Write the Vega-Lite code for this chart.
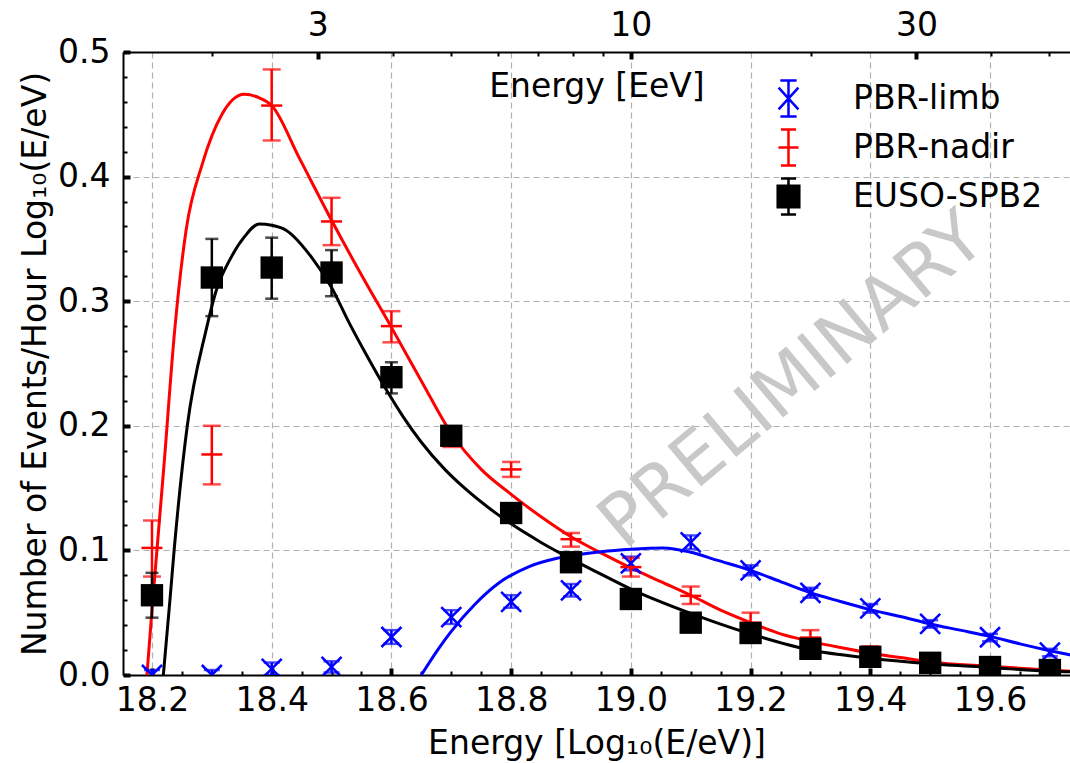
{
  "$schema": "https://vega.github.io/schema/vega-lite/v6.json",
  "width": 947,
  "height": 623,
  "autosize": {"type": "none"},
  "padding": {"left": 123, "top": 52, "right": 0, "bottom": 88},
  "background": "white",
  "config": {
    "font": "DejaVu Sans",
    "view": {"stroke": null},
    "axis": {
      "labelFont": "DejaVu Sans", "titleFont": "DejaVu Sans",
      "labelFontSize": 33, "titleFontSize": 33, "titleFontWeight": "normal",
      "labelColor": "#000000", "titleColor": "#000000",
      "tickColor": "#000000", "domainColor": "#000000", "domainWidth": 2,
      "gridColor": "#b0b0b0", "gridDash": [6, 4], "gridWidth": 1.2,
      "labelFlush": false, "labelOverlap": false
    },
    "legend": {
      "labelFont": "DejaVu Sans", "labelFontSize": 33, "labelColor": "#000000"
    }
  },
  "datasets": {
    "curve": [
      {"series": "PBR-nadir", "E": 18.1916, "y": 0.0},
      {"series": "PBR-nadir", "E": 18.2, "y": 0.052},
      {"series": "PBR-nadir", "E": 18.21, "y": 0.11},
      {"series": "PBR-nadir", "E": 18.22, "y": 0.168},
      {"series": "PBR-nadir", "E": 18.238, "y": 0.277},
      {"series": "PBR-nadir", "E": 18.257, "y": 0.357},
      {"series": "PBR-nadir", "E": 18.284, "y": 0.41},
      {"series": "PBR-nadir", "E": 18.317, "y": 0.45},
      {"series": "PBR-nadir", "E": 18.354, "y": 0.466},
      {"series": "PBR-nadir", "E": 18.378, "y": 0.4635},
      {"series": "PBR-nadir", "E": 18.4, "y": 0.457},
      {"series": "PBR-nadir", "E": 18.446, "y": 0.415},
      {"series": "PBR-nadir", "E": 18.5, "y": 0.365},
      {"series": "PBR-nadir", "E": 18.55, "y": 0.321},
      {"series": "PBR-nadir", "E": 18.6, "y": 0.279},
      {"series": "PBR-nadir", "E": 18.65, "y": 0.236},
      {"series": "PBR-nadir", "E": 18.7, "y": 0.194},
      {"series": "PBR-nadir", "E": 18.75, "y": 0.165},
      {"series": "PBR-nadir", "E": 18.8, "y": 0.145},
      {"series": "PBR-nadir", "E": 18.85, "y": 0.127},
      {"series": "PBR-nadir", "E": 18.9, "y": 0.111},
      {"series": "PBR-nadir", "E": 18.95, "y": 0.098},
      {"series": "PBR-nadir", "E": 19.0, "y": 0.086},
      {"series": "PBR-nadir", "E": 19.05, "y": 0.075},
      {"series": "PBR-nadir", "E": 19.1, "y": 0.064},
      {"series": "PBR-nadir", "E": 19.15, "y": 0.052},
      {"series": "PBR-nadir", "E": 19.2, "y": 0.042},
      {"series": "PBR-nadir", "E": 19.25, "y": 0.033},
      {"series": "PBR-nadir", "E": 19.3, "y": 0.027},
      {"series": "PBR-nadir", "E": 19.35, "y": 0.022},
      {"series": "PBR-nadir", "E": 19.4, "y": 0.0175},
      {"series": "PBR-nadir", "E": 19.45, "y": 0.014},
      {"series": "PBR-nadir", "E": 19.5, "y": 0.0105},
      {"series": "PBR-nadir", "E": 19.6, "y": 0.007},
      {"series": "PBR-nadir", "E": 19.7, "y": 0.004},
      {"series": "PBR-nadir", "E": 19.735, "y": 0.003},
      {"series": "EUSO-SPB2", "E": 18.219, "y": 0.0},
      {"series": "EUSO-SPB2", "E": 18.23, "y": 0.06},
      {"series": "EUSO-SPB2", "E": 18.237, "y": 0.1},
      {"series": "EUSO-SPB2", "E": 18.259, "y": 0.2},
      {"series": "EUSO-SPB2", "E": 18.29, "y": 0.276},
      {"series": "EUSO-SPB2", "E": 18.307, "y": 0.308},
      {"series": "EUSO-SPB2", "E": 18.332, "y": 0.335},
      {"series": "EUSO-SPB2", "E": 18.355, "y": 0.352},
      {"series": "EUSO-SPB2", "E": 18.379, "y": 0.362},
      {"series": "EUSO-SPB2", "E": 18.4, "y": 0.361},
      {"series": "EUSO-SPB2", "E": 18.424, "y": 0.357},
      {"series": "EUSO-SPB2", "E": 18.467, "y": 0.335},
      {"series": "EUSO-SPB2", "E": 18.5, "y": 0.311},
      {"series": "EUSO-SPB2", "E": 18.529, "y": 0.283},
      {"series": "EUSO-SPB2", "E": 18.56, "y": 0.2554},
      {"series": "EUSO-SPB2", "E": 18.59, "y": 0.2301},
      {"series": "EUSO-SPB2", "E": 18.62, "y": 0.207},
      {"series": "EUSO-SPB2", "E": 18.65, "y": 0.1868},
      {"series": "EUSO-SPB2", "E": 18.69, "y": 0.1646},
      {"series": "EUSO-SPB2", "E": 18.72, "y": 0.1509},
      {"series": "EUSO-SPB2", "E": 18.775, "y": 0.1297},
      {"series": "EUSO-SPB2", "E": 18.8, "y": 0.1213},
      {"series": "EUSO-SPB2", "E": 18.85, "y": 0.1064},
      {"series": "EUSO-SPB2", "E": 18.9, "y": 0.0932},
      {"series": "EUSO-SPB2", "E": 18.95, "y": 0.081},
      {"series": "EUSO-SPB2", "E": 19.0, "y": 0.069},
      {"series": "EUSO-SPB2", "E": 19.1, "y": 0.0495},
      {"series": "EUSO-SPB2", "E": 19.2, "y": 0.033},
      {"series": "EUSO-SPB2", "E": 19.3, "y": 0.02},
      {"series": "EUSO-SPB2", "E": 19.4, "y": 0.0135},
      {"series": "EUSO-SPB2", "E": 19.5, "y": 0.009},
      {"series": "EUSO-SPB2", "E": 19.6, "y": 0.006},
      {"series": "EUSO-SPB2", "E": 19.7, "y": 0.003},
      {"series": "EUSO-SPB2", "E": 19.735, "y": 0.0025},
      {"series": "PBR-limb", "E": 18.65, "y": 0.0},
      {"series": "PBR-limb", "E": 18.68, "y": 0.022},
      {"series": "PBR-limb", "E": 18.7, "y": 0.035},
      {"series": "PBR-limb", "E": 18.74, "y": 0.057},
      {"series": "PBR-limb", "E": 18.78, "y": 0.074},
      {"series": "PBR-limb", "E": 18.83, "y": 0.087},
      {"series": "PBR-limb", "E": 18.88, "y": 0.094},
      {"series": "PBR-limb", "E": 18.95, "y": 0.099},
      {"series": "PBR-limb", "E": 19.0, "y": 0.101},
      {"series": "PBR-limb", "E": 19.054, "y": 0.102},
      {"series": "PBR-limb", "E": 19.1, "y": 0.0985},
      {"series": "PBR-limb", "E": 19.145, "y": 0.092},
      {"series": "PBR-limb", "E": 19.2, "y": 0.084},
      {"series": "PBR-limb", "E": 19.25, "y": 0.075},
      {"series": "PBR-limb", "E": 19.3, "y": 0.066},
      {"series": "PBR-limb", "E": 19.35, "y": 0.059},
      {"series": "PBR-limb", "E": 19.4, "y": 0.0525},
      {"series": "PBR-limb", "E": 19.45, "y": 0.047},
      {"series": "PBR-limb", "E": 19.5, "y": 0.041},
      {"series": "PBR-limb", "E": 19.55, "y": 0.036},
      {"series": "PBR-limb", "E": 19.6, "y": 0.031},
      {"series": "PBR-limb", "E": 19.65, "y": 0.025},
      {"series": "PBR-limb", "E": 19.7, "y": 0.0195},
      {"series": "PBR-limb", "E": 19.735, "y": 0.016}
    ],
    "pts": [
      {"series": "EUSO-SPB2", "E": 18.2, "y": 0.064, "lo": 0.046, "hi": 0.082},
      {"series": "EUSO-SPB2", "E": 18.3, "y": 0.319, "lo": 0.288, "hi": 0.35},
      {"series": "EUSO-SPB2", "E": 18.4, "y": 0.327, "lo": 0.302, "hi": 0.351},
      {"series": "EUSO-SPB2", "E": 18.5, "y": 0.323, "lo": 0.304, "hi": 0.341},
      {"series": "EUSO-SPB2", "E": 18.6, "y": 0.239, "lo": 0.226, "hi": 0.251},
      {"series": "EUSO-SPB2", "E": 18.7, "y": 0.192, "lo": 0.187, "hi": 0.197},
      {"series": "EUSO-SPB2", "E": 18.8, "y": 0.13, "lo": 0.126, "hi": 0.134},
      {"series": "EUSO-SPB2", "E": 18.9, "y": 0.0905, "lo": 0.087, "hi": 0.094},
      {"series": "EUSO-SPB2", "E": 19.0, "y": 0.061, "lo": 0.058, "hi": 0.064},
      {"series": "EUSO-SPB2", "E": 19.1, "y": 0.042, "lo": 0.039, "hi": 0.045},
      {"series": "EUSO-SPB2", "E": 19.2, "y": 0.0337, "lo": 0.031, "hi": 0.036},
      {"series": "EUSO-SPB2", "E": 19.3, "y": 0.021, "lo": 0.019, "hi": 0.023},
      {"series": "EUSO-SPB2", "E": 19.4, "y": 0.0146, "lo": 0.013, "hi": 0.016},
      {"series": "EUSO-SPB2", "E": 19.5, "y": 0.0098, "lo": 0.008, "hi": 0.011},
      {"series": "EUSO-SPB2", "E": 19.6, "y": 0.0064, "lo": 0.005, "hi": 0.008},
      {"series": "EUSO-SPB2", "E": 19.7, "y": 0.004, "lo": 0.003, "hi": 0.005},
      {"series": "PBR-nadir", "E": 18.2, "y": 0.102, "lo": 0.079, "hi": 0.124},
      {"series": "PBR-nadir", "E": 18.3, "y": 0.177, "lo": 0.153, "hi": 0.2},
      {"series": "PBR-nadir", "E": 18.4, "y": 0.457, "lo": 0.429, "hi": 0.486},
      {"series": "PBR-nadir", "E": 18.5, "y": 0.364, "lo": 0.345, "hi": 0.383},
      {"series": "PBR-nadir", "E": 18.6, "y": 0.28, "lo": 0.267, "hi": 0.292},
      {"series": "PBR-nadir", "E": 18.7, "y": 0.19, "lo": 0.183, "hi": 0.197},
      {"series": "PBR-nadir", "E": 18.8, "y": 0.165, "lo": 0.159, "hi": 0.171},
      {"series": "PBR-nadir", "E": 18.9, "y": 0.109, "lo": 0.103, "hi": 0.114},
      {"series": "PBR-nadir", "E": 19.0, "y": 0.0866, "lo": 0.079, "hi": 0.094},
      {"series": "PBR-nadir", "E": 19.1, "y": 0.0635, "lo": 0.057, "hi": 0.071},
      {"series": "PBR-nadir", "E": 19.2, "y": 0.042, "lo": 0.035, "hi": 0.05},
      {"series": "PBR-nadir", "E": 19.3, "y": 0.03, "lo": 0.024, "hi": 0.036},
      {"series": "PBR-nadir", "E": 19.4, "y": 0.018, "lo": 0.013, "hi": 0.023},
      {"series": "PBR-nadir", "E": 19.5, "y": 0.012, "lo": 0.008, "hi": 0.016},
      {"series": "PBR-nadir", "E": 19.6, "y": 0.008, "lo": 0.005, "hi": 0.011},
      {"series": "PBR-nadir", "E": 19.7, "y": 0.004, "lo": 0.002, "hi": 0.006},
      {"series": "PBR-limb", "E": 18.2, "y": 0.0, "lo": -0.004, "hi": 0.004},
      {"series": "PBR-limb", "E": 18.3, "y": 0.0, "lo": -0.004, "hi": 0.004},
      {"series": "PBR-limb", "E": 18.4, "y": 0.005, "lo": 0.0, "hi": 0.01},
      {"series": "PBR-limb", "E": 18.5, "y": 0.0065, "lo": 0.002, "hi": 0.011},
      {"series": "PBR-limb", "E": 18.6, "y": 0.0305, "lo": 0.025, "hi": 0.036},
      {"series": "PBR-limb", "E": 18.7, "y": 0.0465, "lo": 0.041, "hi": 0.052},
      {"series": "PBR-limb", "E": 18.8, "y": 0.0587, "lo": 0.054, "hi": 0.064},
      {"series": "PBR-limb", "E": 18.9, "y": 0.068, "lo": 0.063, "hi": 0.073},
      {"series": "PBR-limb", "E": 19.0, "y": 0.0895, "lo": 0.084, "hi": 0.095},
      {"series": "PBR-limb", "E": 19.1, "y": 0.1065, "lo": 0.101, "hi": 0.112},
      {"series": "PBR-limb", "E": 19.2, "y": 0.084, "lo": 0.08, "hi": 0.088},
      {"series": "PBR-limb", "E": 19.3, "y": 0.066, "lo": 0.062, "hi": 0.07},
      {"series": "PBR-limb", "E": 19.4, "y": 0.0535, "lo": 0.05, "hi": 0.057},
      {"series": "PBR-limb", "E": 19.5, "y": 0.041, "lo": 0.038, "hi": 0.044},
      {"series": "PBR-limb", "E": 19.6, "y": 0.0303, "lo": 0.027, "hi": 0.033},
      {"series": "PBR-limb", "E": 19.7, "y": 0.018, "lo": 0.015, "hi": 0.021}
    ]
  },
  "resolve": {"axis": {"x": "independent", "y": "independent"}},
  "layer": [
    {
      "data": {"name": "curve"},
      "mark": {"type": "line", "strokeWidth": 3, "clip": true, "interpolate": "monotone"},
      "encoding": {
        "x": {"field": "E", "type": "quantitative", "scale": {"domain": [18.1516, 19.7336], "nice": false, "zero": false},
          "axis": {"orient": "bottom", "values": [18.2, 18.4, 18.6, 18.8, 19.0, 19.2, 19.4, 19.6], "format": ".1f", "tickSize": -7, "tickWidth": 4, "labelPadding": 16, "grid": true, "title": "Energy [Log₁₀(E/eV)]", "titleY": 78, "titleBaseline": "alphabetic"}},
        "y": {"field": "y", "type": "quantitative", "scale": {"domain": [0, 0.5], "nice": false, "zero": false},
          "axis": {"orient": "left", "values": [0, 0.1, 0.2, 0.3, 0.4, 0.5], "format": ".1f", "tickSize": -7, "tickWidth": 4, "labelPadding": 20, "grid": true, "title": "Number of Events/Hour Log₁₀(E/eV)", "titleX": -78, "titleBaseline": "alphabetic"}},
        "color": {"field": "series", "type": "nominal", "scale": {"domain": ["PBR-nadir", "EUSO-SPB2", "PBR-limb"], "range": ["#ff0000", "#000000", "#0000ff"]}, "legend": null}
      }
    },
    {
      "data": {"name": "pts"},
      "transform": [{"filter": "datum.series === 'PBR-limb'"}],
      "mark": {"type": "errorbar", "color": "#0000ff", "thickness": 2.5, "ticks": {"size": 16}, "clip": true},
      "encoding": {
        "x": {"field": "E", "type": "quantitative", "scale": {"domain": [18.1516, 19.7336], "nice": false, "zero": false}, "axis": null},
        "y": {"field": "lo", "type": "quantitative", "scale": {"domain": [0, 0.5], "nice": false, "zero": false}, "axis": null},
        "y2": {"field": "hi"}
      }
    },
    {
      "data": {"name": "pts"},
      "transform": [{"filter": "datum.series === 'PBR-nadir'"}],
      "mark": {"type": "errorbar", "color": "#ff0000", "thickness": 2.5, "ticks": {"size": 18}, "clip": true},
      "encoding": {
        "x": {"field": "E", "type": "quantitative", "scale": {"domain": [18.1516, 19.7336], "nice": false, "zero": false}, "axis": null},
        "y": {"field": "lo", "type": "quantitative", "scale": {"domain": [0, 0.5], "nice": false, "zero": false}, "axis": null},
        "y2": {"field": "hi"}
      }
    },
    {
      "data": {"name": "pts"},
      "transform": [{"filter": "datum.series === 'EUSO-SPB2'"}],
      "mark": {"type": "errorbar", "color": "#000000", "thickness": 2.5, "ticks": {"size": 13}, "clip": true},
      "encoding": {
        "x": {"field": "E", "type": "quantitative", "scale": {"domain": [18.1516, 19.7336], "nice": false, "zero": false}, "axis": null},
        "y": {"field": "lo", "type": "quantitative", "scale": {"domain": [0, 0.5], "nice": false, "zero": false}, "axis": null},
        "y2": {"field": "hi"}
      }
    },
    {
      "data": {"name": "pts"},
      "transform": [{"filter": "datum.series === 'PBR-limb'"}],
      "mark": {"type": "point", "shape": "M-1,-1L1,1M-1,1L1,-1", "size": 400, "strokeWidth": 2.5, "color": "#0000ff", "filled": false, "opacity": 1, "clip": true},
      "encoding": {
        "x": {"field": "E", "type": "quantitative", "scale": {"domain": [18.1516, 19.7336], "nice": false, "zero": false},
          "axis": {"orient": "bottom", "values": [18.25, 18.3, 18.35, 18.45, 18.5, 18.55, 18.65, 18.7, 18.75, 18.85, 18.9, 18.95, 19.05, 19.1, 19.15, 19.25, 19.3, 19.35, 19.45, 19.5, 19.55, 19.65, 19.7], "tickSize": -4, "tickWidth": 2, "labels": false, "domain": false, "grid": false, "title": null}},
        "y": {"field": "y", "type": "quantitative", "scale": {"domain": [0, 0.5], "nice": false, "zero": false},
          "axis": {"orient": "left", "values": [0.02, 0.04, 0.06, 0.08, 0.12, 0.14, 0.16, 0.18, 0.22, 0.24, 0.26, 0.28, 0.32, 0.34, 0.36, 0.38, 0.42, 0.44, 0.46, 0.48], "tickSize": -4, "tickWidth": 2, "labels": false, "domain": false, "grid": false, "title": null}}
      }
    },
    {
      "data": {"name": "pts"},
      "transform": [{"filter": "datum.series === 'PBR-nadir'"}],
      "mark": {"type": "point", "shape": "M-1,0L1,0", "size": 441, "strokeWidth": 2.5, "color": "#ff0000", "filled": false, "opacity": 1, "clip": true},
      "encoding": {
        "x": {"field": "E", "type": "quantitative", "scale": {"domain": [18.1516, 19.7336], "nice": false, "zero": false},
          "axis": {"orient": "top", "values": [18.47712, 19.0, 19.47712], "labelExpr": "datum.value < 18.7 ? '3' : (datum.value < 19.2 ? '10' : '30')", "tickSize": -7, "tickWidth": 4, "labelPadding": 17, "grid": false, "domain": true, "title": "Energy [EeV]", "titleY": 44, "titleBaseline": "alphabetic"}},
        "y": {"field": "y", "type": "quantitative", "scale": {"domain": [0, 0.5], "nice": false, "zero": false}, "axis": null}
      }
    },
    {
      "data": {"name": "pts"},
      "transform": [{"filter": "datum.series === 'EUSO-SPB2'"}],
      "mark": {"type": "point", "shape": "square", "size": 500, "color": "#000000", "filled": true, "opacity": 1, "clip": true},
      "encoding": {
        "x": {"field": "E", "type": "quantitative", "scale": {"domain": [18.1516, 19.7336], "nice": false, "zero": false},
          "axis": {"orient": "top", "values": [18.30103, 18.60206, 18.69897, 18.77815, 18.8451, 18.90309, 18.95424, 19.30103, 19.60206, 19.69897], "tickSize": -4, "tickWidth": 2, "labels": false, "domain": false, "grid": false, "title": null}},
        "y": {"field": "y", "type": "quantitative", "scale": {"domain": [0, 0.5], "nice": false, "zero": false}, "axis": null}
      }
    },
    {
      "data": {"name": "pts"},
      "transform": [{"filter": "false"}],
      "mark": {"type": "point", "filled": true},
      "encoding": {
        "x": {"field": "E", "type": "quantitative", "scale": {"domain": [18.1516, 19.7336], "nice": false, "zero": false}, "axis": null},
        "y": {"field": "y", "type": "quantitative", "scale": {"domain": [0, 0.5], "nice": false, "zero": false}, "axis": null},
        "shape": {"field": "series", "type": "nominal", "scale": {"domain": ["PBR-limb", "PBR-nadir", "EUSO-SPB2"], "range": ["M0,-1L0,1M-0.45,-1L0.45,-1M-0.45,1L0.45,1M-0.55,-0.6L0.55,0.6M-0.55,0.6L0.55,-0.6", "M0,-1L0,1M-0.42,-1L0.42,-1M-0.42,1L0.42,1M-0.56,0L0.56,0", "M-0.6,-0.6L0.6,-0.6L0.6,0.6L-0.6,0.6Z M0,-1L0,1M-0.42,-1L0.42,-1M-0.42,1L0.42,1"]},
          "legend": {"title": null, "orient": "top-right", "offset": 27, "symbolSize": 1296, "symbolStrokeWidth": 2.5, "labelFontSize": 33, "labelOffset": 45, "rowPadding": 2, "padding": 0, "symbolOpacity": 1, "labelLimit": 400}},
        "stroke": {"field": "series", "type": "nominal", "scale": {"domain": ["PBR-limb", "PBR-nadir", "EUSO-SPB2"], "range": ["#0000ff", "#ff0000", "#000000"]},
          "legend": {"title": null, "orient": "top-right", "offset": 27, "symbolSize": 1296, "symbolStrokeWidth": 2.5, "labelFontSize": 33, "labelOffset": 45, "rowPadding": 2, "padding": 0, "symbolOpacity": 1, "labelLimit": 400}},
        "fill": {"field": "series", "type": "nominal", "scale": {"domain": ["PBR-limb", "PBR-nadir", "EUSO-SPB2"], "range": ["#0000ff", "#ff0000", "#000000"]},
          "legend": {"title": null, "orient": "top-right", "offset": 27, "symbolSize": 1296, "symbolStrokeWidth": 2.5, "labelFontSize": 33, "labelOffset": 45, "rowPadding": 2, "padding": 0, "symbolOpacity": 1, "labelLimit": 400}}
      }
    },
    {
      "data": {"values": [{}]},
      "mark": {"type": "text", "text": "PRELIMINARY", "angle": 320, "fontSize": 72, "font": "DejaVu Sans", "color": "#c8c8c8", "align": "center", "baseline": "middle"},
      "encoding": {
        "x": {"datum": 19.27, "type": "quantitative", "scale": {"domain": [18.1516, 19.7336], "nice": false, "zero": false}, "axis": null},
        "y": {"datum": 0.236, "type": "quantitative", "scale": {"domain": [0, 0.5], "nice": false, "zero": false}, "axis": null}
      }
    }
  ]
}
